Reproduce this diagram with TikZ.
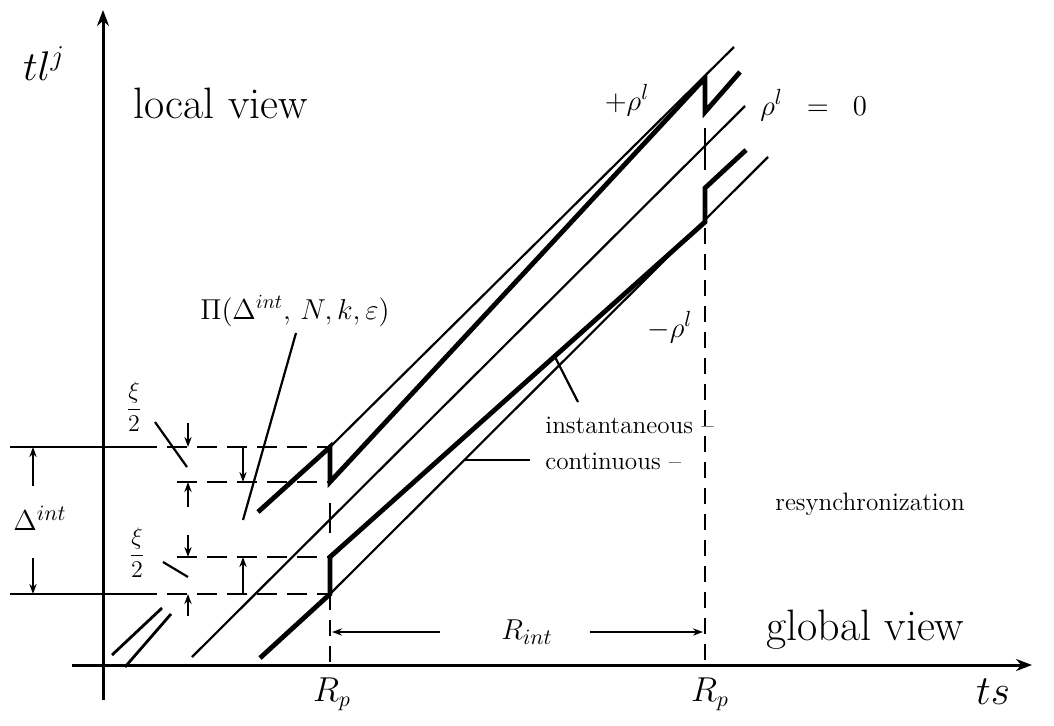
\documentclass[tikz,border=0pt]{standalone}
\usetikzlibrary{arrows.meta}
\begin{document}
\begin{tikzpicture}[x=0.5pt,y=-0.5pt,
  fineline/.style={line width=1.1pt},
  boldline/.style={line width=2.4pt,line join=miter},
  axisline/.style={line width=1.5pt,-{Stealth[length=8pt,width=6pt]}},
  dimarrow/.style={line width=1.1pt,-{Stealth[length=5pt,width=3.6pt]}},
  dashline/.style={line width=1.3pt,dash pattern=on 10pt off 5pt},
  vdash/.style={line width=1.1pt,dash pattern=on 8pt off 5pt},
  leader/.style={line width=1.1pt},
  bigtxt/.style={inner sep=0pt,font=\fontsize{22}{26}\selectfont},
  smalltxt/.style={inner sep=0pt,font=\fontsize{12.6}{15}\selectfont},
  mathlbl/.style={inner sep=0pt,font=\fontsize{15}{18}\selectfont},
  axlbl/.style={inner sep=0pt,font=\fontsize{22}{26}\selectfont}
]
\useasboundingbox (0,0) rectangle (1054,725);

% axes
\coordinate (yb) at (103,700); \coordinate (yt) at (103,10);
\coordinate (xl) at (72,665);  \coordinate (xr) at (1032,665);
\draw[axisline] (yb) -- (yt);
\draw[axisline] (xl) -- (xr);

% horizontal reference levels
\coordinate (a1) at (10,447);  \coordinate (a2) at (137,447); \coordinate (a3) at (330,447);
\coordinate (b1) at (177,482); \coordinate (b2) at (330,482);
\coordinate (c1) at (177,557); \coordinate (c2) at (330,557);
\coordinate (d1) at (10,594);  \coordinate (d2) at (137,594); \coordinate (d3) at (330,594);
\draw[line width=1.3pt] (a1) -- (a2);
\draw[line width=1.3pt] (d1) -- (d2);
\draw[dashline] (a2) -- (a3);
\draw[dashline] (b1) -- (b2);
\draw[dashline] (c1) -- (c2);
\draw[dashline] (d2) -- (d3);

% vertical dashed resync lines
\coordinate (r1b) at (330,665); \coordinate (r2t) at (705,228); \coordinate (r2b) at (705,665);
\draw[vdash] (d3) -- (r1b);
\draw[vdash] (r2t) -- (r2b);
\coordinate (t1a) at (330,503); \coordinate (t1b) at (330,533);
\coordinate (t2a) at (705,128); \coordinate (t2b) at (705,170);
\draw[fineline] (t1a) -- (t1b);
\draw[fineline] (t2a) -- (t2b);

% upper bundle (+rho)
\coordinate (u0) at (258,512); \coordinate (u1) at (330,447); \coordinate (u2) at (330,482);
\coordinate (u3) at (705,78);  \coordinate (u4) at (705,112); \coordinate (u5) at (740,72);
\coordinate (u6) at (734,47);
\draw[boldline] (u0) -- (u1) -- (u2) -- (u3) -- (u4) -- (u5);
\draw[fineline] (u1) -- (u6);

% middle line (rho = 0)
\coordinate (m0) at (192,657); \coordinate (m1) at (745,106);
\draw[fineline] (m0) -- (m1);

% lower bundle (-rho)
\coordinate (l0) at (260,658); \coordinate (l1) at (330,594); \coordinate (l2) at (330,557);
\coordinate (l3) at (705,222); \coordinate (l4) at (705,188); \coordinate (l5) at (746,150);
\coordinate (l6) at (768,157);
\draw[boldline] (l0) -- (l1) -- (l2) -- (l3) -- (l4) -- (l5);
\draw[fineline] (l1) -- (l6);

% short segments near origin
\coordinate (s1a) at (112,655); \coordinate (s1b) at (162,608);
\coordinate (s2a) at (125,667); \coordinate (s2b) at (171,614);
\draw[line width=1.4pt] (s1a) -- (s1b);
\draw[line width=1.4pt] (s2a) -- (s2b);

% Delta^int dimension
\coordinate (da1) at (33,486); \coordinate (da2) at (33,447);
\coordinate (db1) at (33,558); \coordinate (db2) at (33,594);
\draw[dimarrow] (da1) -- (da2);
\draw[dimarrow] (db1) -- (db2);
\node[mathlbl] (dint) at (40,518) {$\Delta^{int}$};

% xi/2 dimensions (upper)
\coordinate (x1a) at (188,423); \coordinate (x1b) at (188,447);
\coordinate (x2a) at (188,507); \coordinate (x2b) at (188,482);
\coordinate (x3a) at (243,447); \coordinate (x3b) at (243,482);
\draw[dimarrow] (x1a) -- (x1b);
\draw[dimarrow] (x2a) -- (x2b);
\draw[dimarrow] (x3a) -- (x3b);
% xi/2 dimensions (lower)
\coordinate (y1a) at (188,535); \coordinate (y1b) at (188,557);
\coordinate (y2a) at (188,616); \coordinate (y2b) at (188,594);
\coordinate (y3a) at (243,594); \coordinate (y3b) at (243,557);
\draw[dimarrow] (y1a) -- (y1b);
\draw[dimarrow] (y2a) -- (y2b);
\draw[dimarrow] (y3a) -- (y3b);

\node[inner sep=0pt,font=\fontsize{12}{14}\selectfont] (xiu) at (134,407) {$\displaystyle\frac{\xi}{2}$};
\node[inner sep=0pt,font=\fontsize{12}{14}\selectfont] (xil) at (137,553) {$\displaystyle\frac{\xi}{2}$};
\coordinate (xul) at (155,422); \coordinate (xue) at (187,467);
\coordinate (xll) at (163,562); \coordinate (xle) at (188,577);
\draw[leader] (xul) -- (xue);
\draw[leader] (xll) -- (xle);

% Pi label
\node[inner sep=0pt,font=\fontsize{14}{17}\selectfont] (pi) at (295,311) {$\Pi(\Delta^{int},\,N,k,\varepsilon)$};
\coordinate (pis) at (296,333); \coordinate (pie) at (243,520);
\draw[leader] (pis) -- (pie);

% rho labels
\node[mathlbl] (rp) at (627,100) {$+\rho^{l}$};
\node[mathlbl,anchor=west] (r0) at (760,105) {$\rho^{l}\;\;=\;\;0$};
\node[mathlbl] (rm) at (670,327) {$-\rho^{l}$};

% resynchronization labels
\node[smalltxt,anchor=west] (inst) at (545,425) {instantaneous --};
\node[smalltxt,anchor=west] (cont) at (545,461) {continuous --};
\node[smalltxt,anchor=west] (resy) at (775,504) {resynchronization};
\coordinate (ip) at (555,357); \coordinate (iq) at (578,402);
\draw[leader] (ip) -- (iq);
\coordinate (cp) at (465,460); \coordinate (cq) at (530,460);
\draw[leader] (cp) -- (cq);

% R_int dimension
\node[mathlbl] (rint) at (527,632) {$R_{int}$};
\coordinate (ra) at (440,632); \coordinate (rb) at (332,632);
\coordinate (rc) at (590,632); \coordinate (rd) at (703,632);
\draw[dimarrow] (ra) -- (rb);
\draw[dimarrow] (rc) -- (rd);

% view labels and axis labels
\node[bigtxt,anchor=west] (local) at (133,103) {local view};
\node[bigtxt,anchor=west] (global) at (766,630) {global view};
\node[axlbl] (tl) at (44,64) {$tl^{j}$};
\node[axlbl] (ts) at (993,692) {$ts$};
\node[font=\fontsize{16}{19}\selectfont,inner sep=0pt] (rp1) at (332,694) {$R_p$};
\node[font=\fontsize{16}{19}\selectfont,inner sep=0pt] (rp2) at (710,694) {$R_p$};
\end{tikzpicture}
\end{document}
